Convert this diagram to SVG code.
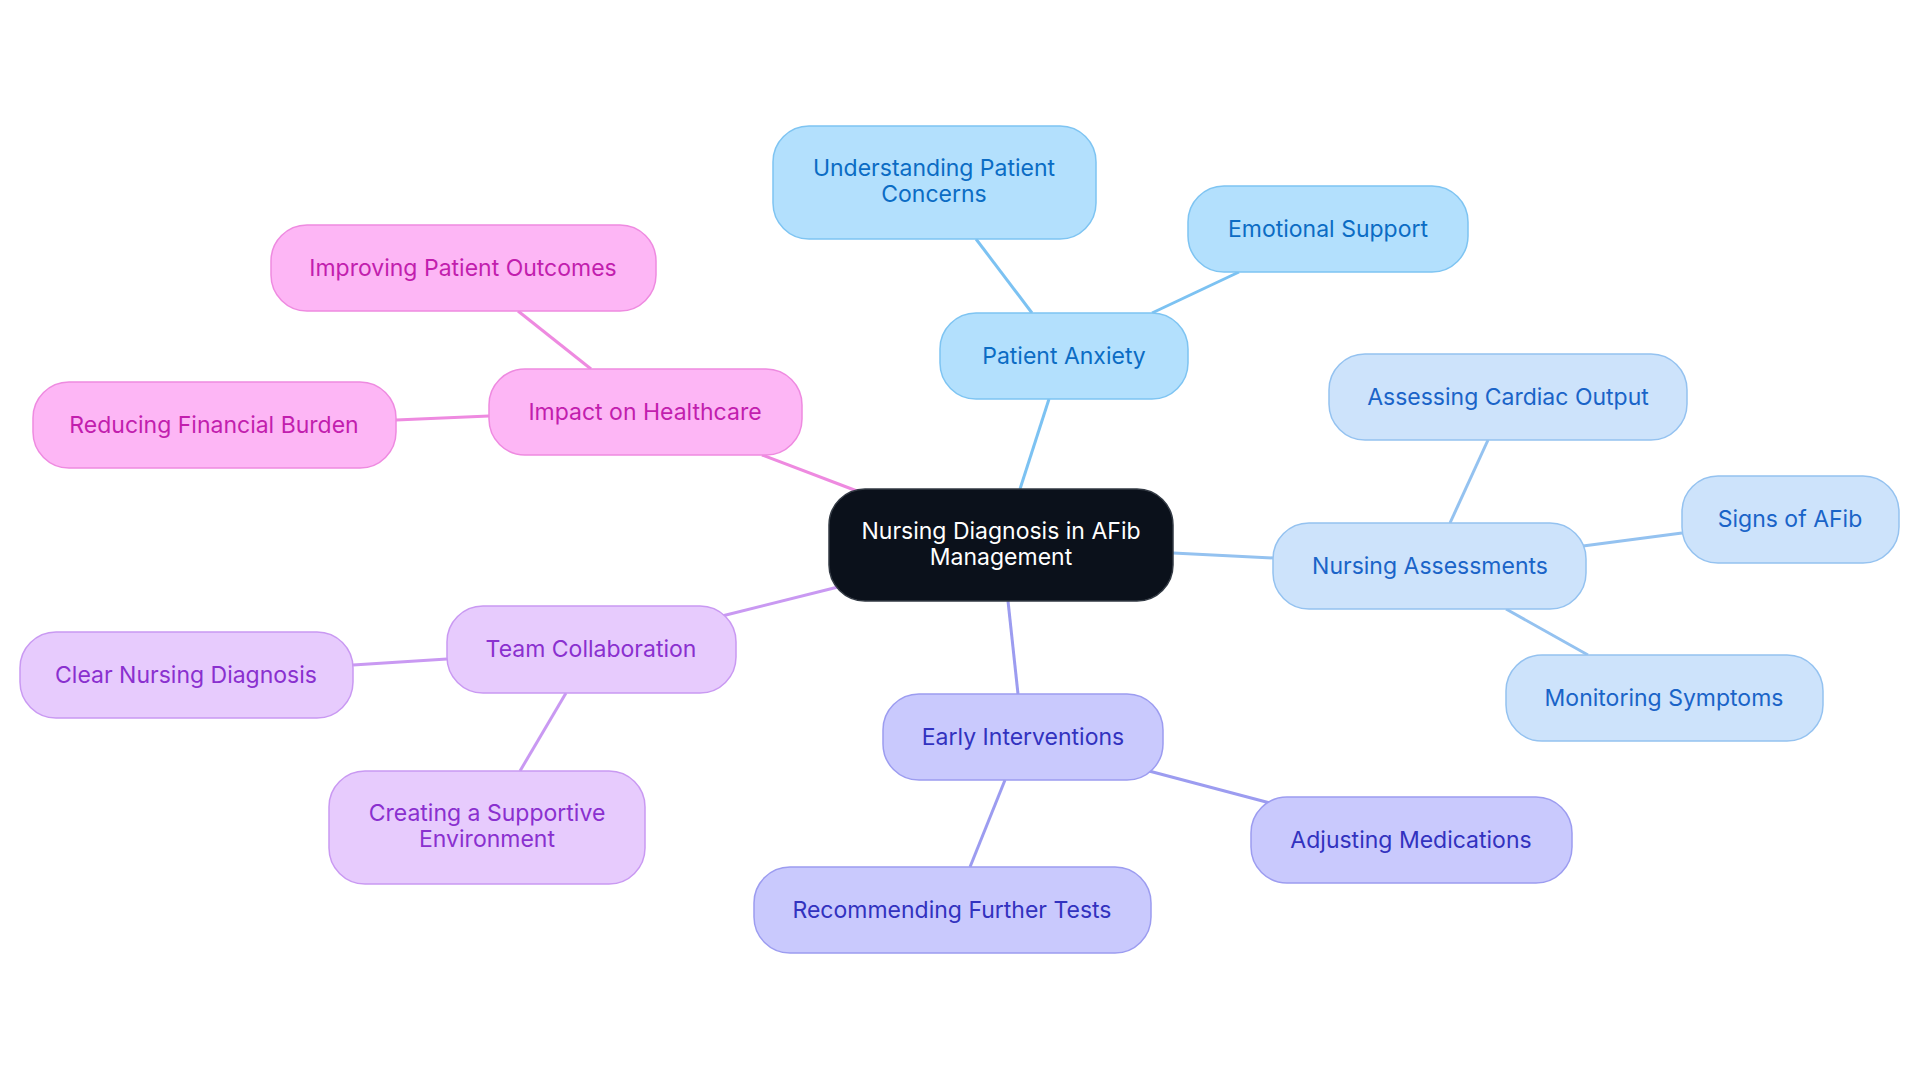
<svg xmlns="http://www.w3.org/2000/svg" width="1920" height="1083" viewBox="0 0 1920 1083">
<style>
text{font-family:Inter,"Noto Sans",sans-serif;font-size:23px;text-anchor:middle;dominant-baseline:central}
.c rect{fill:#0b111b;stroke:#333a44;stroke-width:1.5}.c text{fill:#fff}
.a rect{fill:#b3e0fd;stroke:#7ec4f2;stroke-width:1.5}.a text{fill:#0b6cc4}
.b rect{fill:#cde3fb;stroke:#94c2f0;stroke-width:1.5}.b text{fill:#1a64c8}
.d rect{fill:#c9c9fd;stroke:#9c9cf0;stroke-width:1.5}.d text{fill:#3232bf}
.e rect{fill:#e7cbfd;stroke:#c999f2;stroke-width:1.5}.e text{fill:#8a30cf}
.f rect{fill:#fdb6f5;stroke:#ee8ae0;stroke-width:1.5}.f text{fill:#c21eae}
#edges line{stroke-width:3;fill:none}
</style>
<rect width="1920" height="1083" fill="#fff"/>
<g id="edges">
<line x1="1020" y1="489" x2="1049" y2="399" stroke="#7cc2f2"/>
<line x1="1032" y1="313" x2="976" y2="239" stroke="#7cc2f2"/>
<line x1="1152" y1="313" x2="1239" y2="272" stroke="#7cc2f2"/>
<line x1="1173" y1="553" x2="1273" y2="558" stroke="#94c2f0"/>
<line x1="1450" y1="523" x2="1488" y2="440" stroke="#94c2f0"/>
<line x1="1583" y1="546" x2="1682" y2="533" stroke="#94c2f0"/>
<line x1="1506" y1="609" x2="1588" y2="655" stroke="#94c2f0"/>
<line x1="1008" y1="601" x2="1018" y2="694" stroke="#9c9cf0"/>
<line x1="1149" y1="771" x2="1270" y2="803" stroke="#9c9cf0"/>
<line x1="1005" y1="780" x2="970" y2="867" stroke="#9c9cf0"/>
<line x1="838" y1="587" x2="722" y2="616" stroke="#c999f2"/>
<line x1="447" y1="659" x2="353" y2="665" stroke="#c999f2"/>
<line x1="566" y1="693" x2="520" y2="771" stroke="#c999f2"/>
<line x1="857" y1="491" x2="762" y2="455" stroke="#ee8ae0"/>
<line x1="591" y1="369" x2="518" y2="311" stroke="#ee8ae0"/>
<line x1="489" y1="416" x2="396" y2="420" stroke="#ee8ae0"/>
</g>
<g id="center" class="c"><rect x="829" y="489" width="344" height="112" rx="36"/><text x="1001" y="531">Nursing Diagnosis in AFib</text><text x="1001" y="557">Management</text></g>
<g id="pa" class="a"><rect x="940" y="313" width="248" height="86" rx="36"/><text x="1064" y="356">Patient Anxiety</text></g>
<g id="upc" class="a"><rect x="773" y="126" width="323" height="113" rx="36"/><text x="934" y="168">Understanding Patient</text><text x="934" y="194">Concerns</text></g>
<g id="es" class="a"><rect x="1188" y="186" width="280" height="86" rx="36"/><text x="1328" y="229">Emotional Support</text></g>
<g id="na" class="b"><rect x="1273" y="523" width="313" height="86" rx="36"/><text x="1430" y="566">Nursing Assessments</text></g>
<g id="aco" class="b"><rect x="1329" y="354" width="358" height="86" rx="36"/><text x="1508" y="397">Assessing Cardiac Output</text></g>
<g id="soa" class="b"><rect x="1682" y="476" width="217" height="87" rx="36"/><text x="1790" y="519">Signs of AFib</text></g>
<g id="ms" class="b"><rect x="1506" y="655" width="317" height="86" rx="36"/><text x="1664" y="698">Monitoring Symptoms</text></g>
<g id="ei" class="d"><rect x="883" y="694" width="280" height="86" rx="36"/><text x="1023" y="737">Early Interventions</text></g>
<g id="am" class="d"><rect x="1251" y="797" width="321" height="86" rx="36"/><text x="1411" y="840">Adjusting Medications</text></g>
<g id="rft" class="d"><rect x="754" y="867" width="397" height="86" rx="36"/><text x="952" y="910">Recommending Further Tests</text></g>
<g id="tc" class="e"><rect x="447" y="606" width="289" height="87" rx="36"/><text x="591" y="649">Team Collaboration</text></g>
<g id="cnd" class="e"><rect x="20" y="632" width="333" height="86" rx="36"/><text x="186" y="675">Clear Nursing Diagnosis</text></g>
<g id="cse" class="e"><rect x="329" y="771" width="316" height="113" rx="36"/><text x="487" y="813">Creating a Supportive</text><text x="487" y="839">Environment</text></g>
<g id="ih" class="f"><rect x="489" y="369" width="313" height="86" rx="36"/><text x="645" y="412">Impact on Healthcare</text></g>
<g id="ipo" class="f"><rect x="271" y="225" width="385" height="86" rx="36"/><text x="463" y="268">Improving Patient Outcomes</text></g>
<g id="rfb" class="f"><rect x="33" y="382" width="363" height="86" rx="36"/><text x="214" y="425">Reducing Financial Burden</text></g>
</svg>
